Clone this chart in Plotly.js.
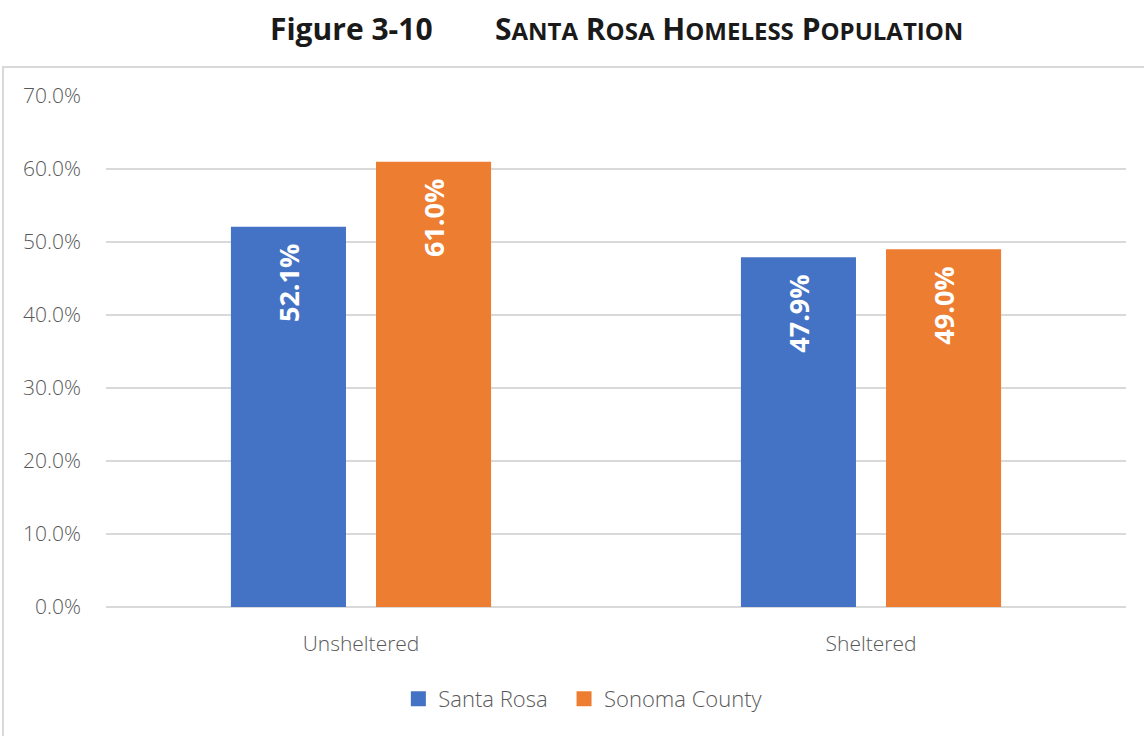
<!DOCTYPE html>
<html><head><meta charset="utf-8">
<script src="https://cdn.plot.ly/plotly-3.0.1.min.js"></script>
<style>
body{margin:0;padding:0;background:#fff;}
#frame{position:absolute;left:2px;top:66px;width:1160px;height:700px;border:2px solid #d9d9d9;box-sizing:border-box;}
#chart{position:absolute;left:0;top:0;width:1144px;height:736px;}
</style></head>
<body>
<div id="frame"></div>
<div id="chart"></div>
<script>
const categories = ["Unsheltered", "Sheltered"];
const santaRosa = [0.521, 0.479];
const sonomaCounty = [0.610, 0.490];
const seriesNames = ["Santa Rosa", "Sonoma County"];
const seriesColors = ["#4472c4", "#ed7d31"];
const yTicks = [0, 0.1, 0.2, 0.3, 0.4, 0.5, 0.6, 0.7];

const font = "Open Sans, Noto Sans, sans-serif";
function mk(name, vals, color){
  return {type:'bar', name:name, x:categories, y:vals, marker:{color:color},
    text: vals.map(v => (v*100).toFixed(1)+'%\u00a0\u00a0'), textposition:'inside',
    insidetextanchor:'end', textangle:-90, constraintext:'none',
    textfont:{family:font, size:27, color:'#ffffff', weight:'bold'},
    hoverinfo:'none', showlegend:false};
}
function lg(name, color, pad){
  return {type:'scatter', mode:'markers', name:name + pad, x:[null], y:[null],
    marker:{symbol:'square', size:15, color:color}, hoverinfo:'none', showlegend:true};
}
const data = [
  mk(seriesNames[0], santaRosa, seriesColors[0]),
  mk(seriesNames[1], sonomaCounty, seriesColors[1]),
  lg(seriesNames[0], seriesColors[0], '\u00a0\u00a0'),
  lg(seriesNames[1], seriesColors[1], '')
];

function sc(word){ // small caps
  return word.split(' ').map(w => '<span style="font-size:30px">'+w[0]+'</span><span style="font-size:24px">'+w.slice(1)+'</span>').join(' ');
}
const titleText = '<b>Figure 3-10</b>\u00a0\u00a0\u00a0\u00a0\u00a0\u00a0\u00a0\u00a0<b>'+sc('SANTA ROSA HOMELESS POPULATION')+'</b>';

const layout = {
  width:1144, height:736,
  margin:{l:106, r:18, t:96, b:129},
  paper_bgcolor:'rgba(0,0,0,0)', plot_bgcolor:'rgba(0,0,0,0)',
  barmode:'group', bargap:0.431, bargroupgap:0.207,
  showlegend:true,
  legend:{orientation:'h', x:0.468, xanchor:'center', y:-0.18, yanchor:'middle',
    font:{family:font, size:22, color:'#595959', weight:300}, itemwidth:30, traceorder:'normal'},
  xaxis:{tickfont:{family:font, size:21, color:'#595959', weight:300}, showline:false, ticks:'', ticklabelstandoff:22},
  yaxis:{range:[0,0.7], tickvals:yTicks, tickformat:'.1%', showgrid:true, gridcolor:'#d9d9d9', gridwidth:1.5,
    zeroline:true, zerolinecolor:'#d9d9d9', zerolinewidth:1.5, showline:false, ticks:'',
    tickfont:{family:font, size:21, color:'#595959', weight:300}, ticklabelstandoff:24},
  annotations:[{xref:'paper', yref:'paper', x:0.50, y:1.133, xanchor:'center', yanchor:'middle', showarrow:false,
    text:titleText, font:{family:font, size:30, color:'#1a1a1a'}}]
};
Plotly.newPlot('chart', data, layout, {displayModeBar:false, staticPlot:true});
</script>
</body></html>
